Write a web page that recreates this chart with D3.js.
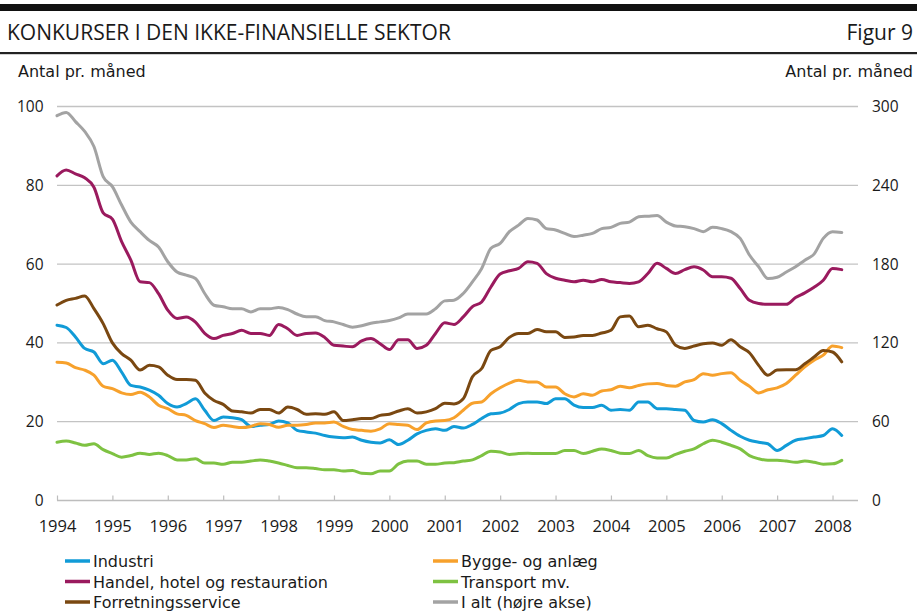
<!DOCTYPE html>
<html><head><meta charset="utf-8">
<script src="https://cdn.jsdelivr.net/npm/d3@7"></script>
<style>
body{margin:0;background:#fff;}
svg text{font-family:"Open Sans",sans-serif;fill:#1a1a1a;}
svg text.dv{font-family:"DejaVu Sans",sans-serif;}
</style></head>
<body><svg id="c" width="917" height="614"></svg>
<script>
// ---- DATA (bimonthly) ----
const months = [
"1994-01","1994-03","1994-05","1994-07","1994-09","1994-11",
"1995-01","1995-03","1995-05","1995-07","1995-09","1995-11",
"1996-01","1996-03","1996-05","1996-07","1996-09","1996-11",
"1997-01","1997-03","1997-05","1997-07","1997-09","1997-11",
"1998-01","1998-03","1998-05","1998-07","1998-09","1998-11",
"1999-01","1999-03","1999-05","1999-07","1999-09","1999-11",
"2000-01","2000-03","2000-05","2000-07","2000-09","2000-11",
"2001-01","2001-03","2001-05","2001-07","2001-09","2001-11",
"2002-01","2002-03","2002-05","2002-07","2002-09","2002-11",
"2003-01","2003-03","2003-05","2003-07","2003-09","2003-11",
"2004-01","2004-03","2004-05","2004-07","2004-09","2004-11",
"2005-01","2005-03","2005-05","2005-07","2005-09","2005-11",
"2006-01","2006-03","2006-05","2006-07","2006-09","2006-11",
"2007-01","2007-03","2007-05","2007-07","2007-09","2007-11",
"2008-01","2008-03"];

const industri = [44.5,43.9,41.5,38.6,37.7,34.7,35.6,32.6,29.2,28.8,28.0,26.7,24.6,23.7,24.6,25.8,22.9,20.3,21.2,21.0,20.5,18.8,19.1,
 19.3,20.2,19.7,17.8,17.4,17.1,16.5,16.1,15.9,16.1,15.3,14.8,14.6,15.4,14.2,15.3,16.9,17.8,18.2,17.8,
 18.8,18.4,19.3,20.8,22.0,22.2,23.1,24.6,25.0,25.0,24.6,25.8,25.8,24.2,23.6,23.6,24.2,22.9,23.1,22.9,25.0,
 25.0,23.3,23.3,23.1,22.9,20.3,19.9,20.5,19.5,17.8,16.3,15.3,14.8,14.4,12.7,14.0,15.3,15.7,16.1,16.5,18.2,16.5];

const bygge = [35.1,34.9,33.7,33.1,31.8,29.0,28.4,27.3,26.9,27.5,26.3,24.2,23.3,22.0,21.6,20.3,19.5,18.5,19.1,18.8,18.5,18.8,19.5,
 19.3,18.6,19.1,19.1,19.3,19.7,19.7,19.9,18.8,18.0,17.8,17.6,18.2,19.5,19.3,19.1,18.0,19.7,20.2,20.3,
 21.0,22.9,24.7,25.0,27.1,28.6,29.8,30.5,30.1,30.1,28.8,28.8,27.1,26.3,27.1,26.7,27.8,28.1,29.0,28.6,29.2,
 29.6,29.7,29.2,29.0,30.1,30.7,32.2,31.8,32.2,32.4,30.5,29.0,27.3,28.1,28.6,29.7,31.8,33.9,35.6,36.9,39.2,38.8];

const handel = [82.4,83.9,82.9,81.9,79.5,73.0,71.4,65.7,61.0,55.5,55.3,52.5,48.3,46.2,46.6,45.3,42.4,41.1,41.9,42.4,43.2,42.4,42.4,
 41.9,44.7,43.6,41.9,42.4,42.5,41.4,39.4,39.2,39.0,40.5,41.1,39.8,38.3,40.8,40.8,38.6,39.4,42.4,45.1,
 44.7,46.6,49.2,50.4,54.2,57.5,58.3,58.9,60.6,60.2,57.6,56.4,55.9,55.5,55.9,55.5,56.1,55.5,55.3,55.1,55.5,
 57.6,60.2,58.9,57.6,58.6,59.3,58.5,56.8,56.8,56.4,53.8,50.8,50.0,49.8,49.8,49.8,51.5,52.7,54.1,55.9,58.9,58.6];

const transport = [14.8,15.1,14.6,14.0,14.4,12.9,11.9,11.0,11.4,12.0,11.7,12.0,11.4,10.3,10.3,10.6,9.5,9.5,9.2,9.7,9.7,10.0,10.3,
 10.0,9.5,8.9,8.3,8.3,8.1,7.8,7.8,7.5,7.6,6.9,6.8,7.5,7.5,9.3,10.0,10.0,9.2,9.2,9.5,
 9.6,10.0,10.3,11.4,12.5,12.3,11.7,11.9,12.0,11.9,11.9,11.9,12.7,12.7,11.9,12.5,13.1,12.7,12.0,11.9,12.7,
 11.4,10.8,10.8,11.7,12.5,13.1,14.4,15.3,14.8,14.0,13.1,11.4,10.6,10.2,10.2,10.0,9.7,10.0,9.7,9.2,9.3,10.2];

const forretning = [49.6,50.8,51.3,51.9,48.7,44.9,40.0,37.3,35.6,33.1,34.3,33.9,31.8,30.7,30.7,30.5,27.3,25.4,24.4,22.7,22.5,22.2,23.1,
 23.1,22.2,23.7,23.1,21.9,22.0,21.9,22.5,20.3,20.5,20.8,20.8,21.6,21.9,22.7,23.3,22.2,22.5,23.3,24.7,
 24.5,25.8,31.4,33.5,38.1,39.0,41.4,42.4,42.4,43.4,42.8,42.8,41.4,41.5,41.9,41.9,42.5,43.2,46.6,46.8,44.1,
 44.5,43.6,42.8,39.4,38.6,39.2,39.8,40.0,39.4,40.8,39.0,37.5,34.3,31.8,33.1,33.2,33.2,34.7,36.4,38.1,37.7,35.2];

// right axis (I alt)
const ialt = [293,295.5,288.5,281,269.5,246.6,239,225,212,204.7,198,193,181.8,174,171.6,169,157.6,148.7,147.5,146,146,143.6,146,
 146,147,145.4,142,140,140,137,136,134,132,133,135,136,137,139,142,142,142,146,152,
 152.5,157.6,166.5,176.7,192,195.8,204.7,209.7,214.8,213.6,207,206,203.4,201,202,203.4,207,208,211,212,216,
 216.5,217,212,209,208.5,207,204.7,208,207,204.7,199.6,186.9,178,169,170,174,178,183,187.6,199.6,204.7,204];

const yearTicks = [1994,1995,1996,1997,1998,1999,2000,2001,2002,2003,2004,2005,2006,2007,2008];
const leftTicks = [0,20,40,60,80,100];
const rightTicks = [0,60,120,180,240,300];

const seriesNames = ["Industri","Bygge- og anlæg","Handel, hotel og restauration","Transport mv.","Forretningsservice","I alt (højre akse)"];
const seriesColors = ["#119bd7","#f7a12c","#9a1a5e","#7ec242","#7a4811","#a3a3a3"];
const seriesData = [industri,bygge,handel,transport,forretning,ialt];
const seriesAxis = ["L","L","L","L","L","R"];

// ---- CHART ----
const svg = d3.select("#c");
const W = 917;
const toYear = s => +s.slice(0,4) + (+s.slice(5,7)-1)/12;

const x = d3.scaleLinear().domain([1994, 2008.46]).range([57, 858]);
const yL = d3.scaleLinear().domain([0,100]).range([500.5,106.5]);
const yR = d3.scaleLinear().domain([0,300]).range([500.5,106.5]);

// header
svg.append("rect").attr("x",0).attr("y",4).attr("width",W).attr("height",7).attr("fill","#111");
svg.append("text").attr("x",7).attr("y",39.5).attr("font-size",21).text("KONKURSER I DEN IKKE-FINANSIELLE SEKTOR");
svg.append("text").attr("x",913).attr("y",39.5).attr("font-size",21).attr("text-anchor","end").text("Figur 9");
svg.append("rect").attr("x",0).attr("y",52).attr("width",W).attr("height",2.2).attr("fill","#222");
svg.append("text").attr("class","dv").attr("x",18).attr("y",77).attr("font-size",16).text("Antal pr. måned");
svg.append("text").attr("class","dv").attr("x",913).attr("y",77).attr("font-size",16).attr("text-anchor","end").text("Antal pr. måned");

// gridlines
svg.append("g").selectAll("line").data(leftTicks.filter(d=>d>0)).join("line")
  .attr("x1",57).attr("x2",858).attr("y1",d=>yL(d)).attr("y2",d=>yL(d))
  .attr("stroke","#c3c3c3").attr("stroke-width",1.3);

// x axis (ticks point upward from the zero line)
const xAxis = d3.axisBottom(x).tickValues(yearTicks).tickFormat(d3.format("d")).tickSize(-5).tickPadding(20);
const gx = svg.append("g").attr("transform","translate(0,500.5)").call(xAxis);
gx.select(".domain").attr("stroke","#bdbdbd").attr("stroke-width",1.3).attr("d","M57,0H858");
gx.selectAll(".tick line").attr("stroke","#bdbdbd").attr("stroke-width",1.2);
gx.selectAll(".tick text").attr("font-size",16.5).attr("fill","#1a1a1a").attr("font-family","Open Sans");

// left axis labels
const gl = svg.append("g").attr("transform","translate(57,0)").call(d3.axisLeft(yL).tickValues(leftTicks).tickSize(0).tickPadding(13.5));
gl.select(".domain").remove();
gl.selectAll(".tick text").attr("font-size",15.5).attr("fill","#1a1a1a").attr("font-family","Open Sans");

// right axis labels
const gr = svg.append("g").attr("transform","translate(858,0)").call(d3.axisRight(yR).tickValues(rightTicks).tickSize(0).tickPadding(14));
gr.select(".domain").remove();
gr.selectAll(".tick text").attr("font-size",15.5).attr("fill","#1a1a1a").attr("font-family","Open Sans");

// lines (I alt drawn first)
const order = [5,0,1,3,2,4];
order.forEach(i=>{
  const ys = seriesAxis[i]==="R" ? yR : yL;
  const line = d3.line().x((d,j)=>x(toYear(months[j]))).y(d=>ys(d)).curve(d3.curveMonotoneX);
  svg.append("path").datum(seriesData[i]).attr("d",line)
    .attr("fill","none").attr("stroke",seriesColors[i]).attr("stroke-width",3).attr("stroke-linejoin","round").attr("stroke-linecap","round");
});

// legend (2 columns, 3 rows)
const legPos = [[65,561],[433,561],[65,581.5],[433,581.5],[65,602],[433,602]];
seriesNames.forEach((n,i)=>{
  const [lx,ly] = legPos[i];
  svg.append("line").attr("x1",lx).attr("x2",lx+25).attr("y1",ly).attr("y2",ly)
    .attr("stroke",seriesColors[i]).attr("stroke-width",3.5);
  svg.append("text").attr("class","dv").attr("x",lx+28).attr("y",ly+6).attr("font-size",16).text(n);
});
</script></body></html>
